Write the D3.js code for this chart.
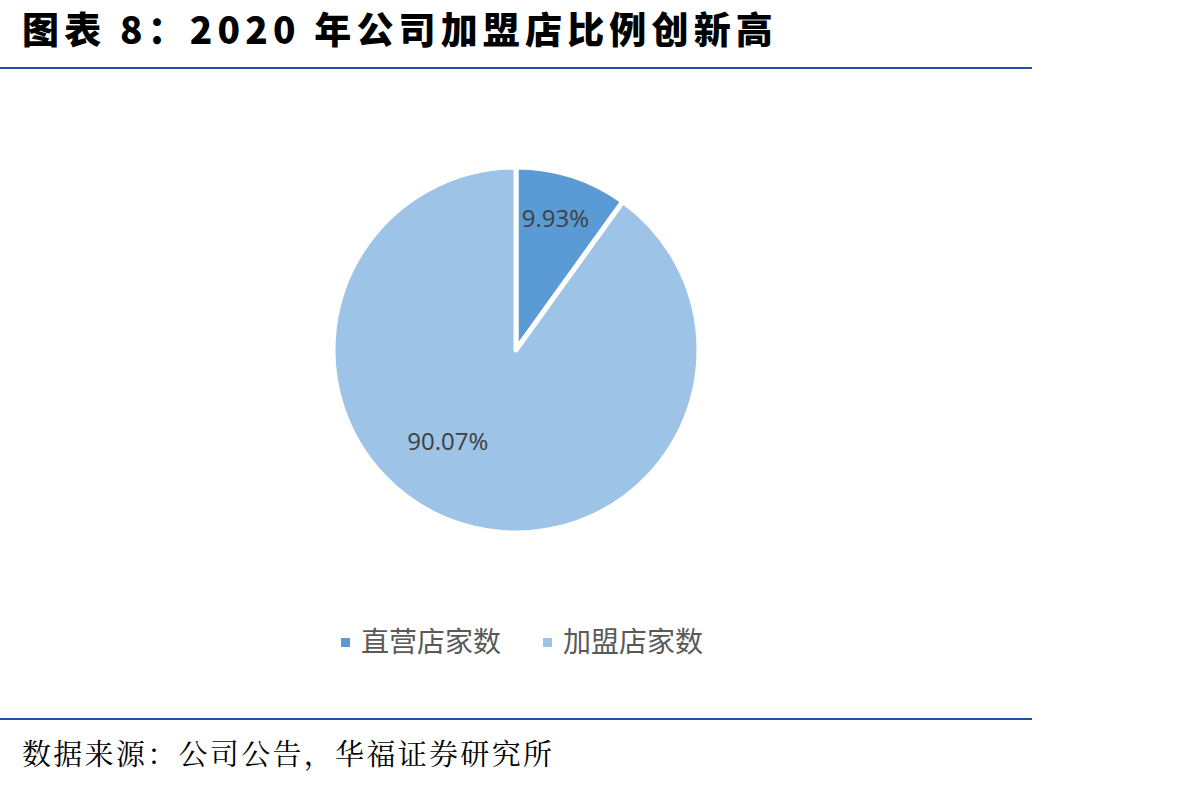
<!DOCTYPE html>
<html>
<head>
<meta charset="utf-8">
<script src="https://cdn.jsdelivr.net/npm/d3@7"></script>
<style>
html,body{margin:0;padding:0;background:#fff;}
svg{display:block;}
</style>
</head>
<body>
<svg id="chart" width="1189" height="786"></svg>
<script>
const categories = ["直营店家数", "加盟店家数"];
const values = [9.93, 90.07];
const labels = ["9.93%", "90.07%"];
const colors = ["#5B9BD5", "#9DC3E6"];
const titleText = "图表 8：2020 年公司加盟店比例创新高";
const sourceText = "数据来源：公司公告，华福证券研究所";

const svg = d3.select("#chart");
const cx = 516, cy = 350, R = 183;

// title
const title = svg.append("text")
  .attr("x", 22).attr("y", 44)
  .attr("font-family", "'Noto Sans CJK SC', sans-serif")
  .attr("font-weight", 900)
  .attr("font-size", 37)
  .attr("letter-spacing", 4)
  .attr("fill", "#000")
  .text(titleText);
// fit to reference width while keeping natural proportions
const tw = title.node().getComputedTextLength();
if (Math.abs(tw - 756) > 6) {
  title.attr("letter-spacing", 4 + (756 - tw) / titleText.length);
}

svg.append("line").attr("x1", 0).attr("x2", 1032).attr("y1", 68).attr("y2", 68)
  .attr("stroke", "#2050A6").attr("stroke-width", 2);
svg.append("line").attr("x1", 0).attr("x2", 1032).attr("y1", 719).attr("y2", 719)
  .attr("stroke", "#2050A6").attr("stroke-width", 2);

svg.append("text")
  .attr("x", 22).attr("y", 765)
  .attr("font-family", "'Noto Serif CJK SC', 'Noto Sans CJK SC', serif")
  .attr("font-size", 29)
  .attr("fill", "#000")
  .attr("textLength", 530)
  .attr("lengthAdjust", "spacing")
  .text(sourceText);

const pie = d3.pie().sort(null).value(d => d);
const arcs = pie(values);
const arc = d3.arc().innerRadius(0).outerRadius(R);

const g = svg.append("g").attr("transform", `translate(${cx},${cy})`);
g.selectAll("path").data(arcs).join("path")
  .attr("d", arc)
  .attr("fill", (d, i) => colors[i])
  .attr("stroke", "#fff")
  .attr("stroke-width", 5)
  .attr("stroke-linejoin", "round");

// label layout (radius, angle offset) per slice
const labelLayout = [{r: 137, da: -0.02}, {r: 114, da: 0.33}];
g.selectAll("text.lbl").data(arcs).join("text")
  .attr("class", "lbl")
  .attr("transform", (d, i) => {
    const a = (d.startAngle + d.endAngle) / 2 + labelLayout[i].da;
    const p = d3.pointRadial(a, labelLayout[i].r);
    return `translate(${p[0]},${p[1]})`;
  })
  .attr("text-anchor", "middle")
  .attr("dy", "0.35em")
  .attr("font-family", "'Open Sans', 'Noto Sans', sans-serif")
  .attr("font-size", 24)
  .attr("fill", "#404040")
  .text((d, i) => labels[i]);

// legend
const legendX = [341, 543];
const lg = svg.append("g");
categories.forEach((c, i) => {
  lg.append("rect").attr("x", legendX[i]).attr("y", 638).attr("width", 9).attr("height", 9)
    .attr("fill", colors[i]);
  lg.append("text").attr("x", legendX[i] + 20).attr("y", 652)
    .attr("font-family", "'Noto Sans CJK SC', sans-serif")
    .attr("font-size", 28)
    .attr("fill", "#595959")
    .text(c);
});
</script>
</body>
</html>
